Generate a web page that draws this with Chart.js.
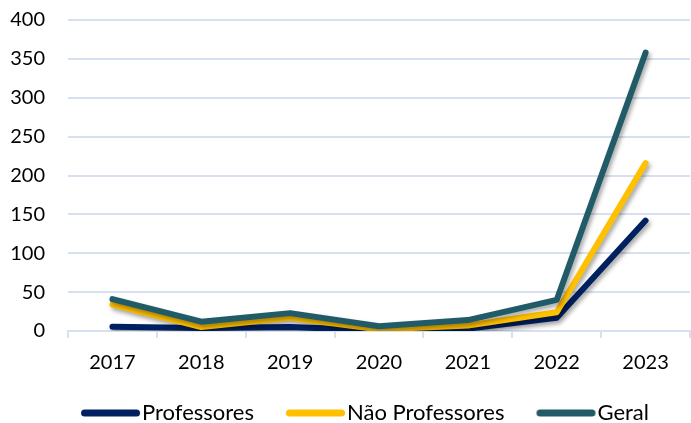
<!DOCTYPE html>
<html><head><meta charset="utf-8">
<script src="https://cdn.jsdelivr.net/npm/chart.js@4.4.0/dist/chart.umd.min.js"></script>
<style>html,body{margin:0;padding:0;background:#fff}#wrap{width:691px;height:423px}</style>
</head><body><div id="wrap"><canvas id="c" width="691" height="423"></canvas></div>
<script>
const categories = ["2017","2018","2019","2020","2021","2022","2023"];
const professores = [5.5, 4, 5, 1, 3, 17, 142];
const naoProfessores = [34, 5, 17, 2, 7, 24, 216];
const geral = [41, 12, 23, 6, 14, 40, 358];
const yTicks = [0,50,100,150,200,250,300,350,400];

const shadowPlugin = {
  id:'shadow',
  beforeDatasetsDraw(chart){const c=chart.ctx;c.save();c.shadowColor='rgba(0,0,0,0.35)';c.shadowBlur=4;c.shadowOffsetX=2;c.shadowOffsetY=3;},
  afterDatasetsDraw(chart){chart.ctx.restore();}
};
const legendShift = {
  id:'legendShift',
  afterLayout(chart){const l=chart.legend;if(!l)return;l.left+=9;l.right+=9;l.top+=11;l.bottom+=11;}
};
// legend marker: a rounded line drawn on the right part of a wider transparent image
function marker(color){
  const cv=document.createElement('canvas');cv.width=100;cv.height=8;
  const g=cv.getContext('2d');g.strokeStyle=color;g.lineWidth=7;g.lineCap='round';
  g.beginPath();g.moveTo(39.5,4);g.lineTo(91.5,4);g.stroke();return cv;
}
const FONT = "Lato, 'Open Sans', sans-serif";
function ds(label,data,color,order){return {label,data,borderColor:color,backgroundColor:color,borderWidth:6,pointRadius:0,pointStyle:marker(color),borderCapStyle:'round',borderJoinStyle:'round',tension:0,order};}
new Chart(document.getElementById('c'),{
  type:'line',
  data:{labels:categories,datasets:[
    ds('Professores',professores,'#002060',3),
    ds('Não Professores',naoProfessores,'#FFC000',2),
    ds('Geral',geral,'#215B67',1)
  ]},
  options:{
    responsive:false,animation:false,devicePixelRatio:1,
    layout:{padding:{left:0,right:1,top:0,bottom:0}},
    plugins:{
      tooltip:{enabled:false},
      legend:{position:'bottom',labels:{usePointStyle:true,pointStyleWidth:72,boxHeight:8,padding:10,color:'#000',font:{family:FONT,size:22},
        sort:(a,b)=>a.datasetIndex-b.datasetIndex}}
    },
    scales:{
      x:{offset:true,
        afterFit(s){s.height-=7;},
        grid:{offset:true,drawOnChartArea:false,drawTicks:true,tickLength:7,color:'#D6E0EE',lineWidth:2},
        border:{color:'#D6E0EE',width:2},
        ticks:{color:'#000',font:{family:FONT,size:20},padding:13,maxRotation:0}},
      y:{min:0,max:400,
        afterBuildTicks(s){s.ticks=yTicks.map(v=>({value:v}));},
        afterFit(s){s.width=68;s.paddingTop=20;},
        grid:{color:'#D6E0EE',lineWidth:2,drawTicks:false},
        border:{display:false},
        ticks:{color:'#000',font:{family:FONT,size:20},padding:23}}
    }
  },
  plugins:[shadowPlugin,legendShift]
});
</script></body></html>
